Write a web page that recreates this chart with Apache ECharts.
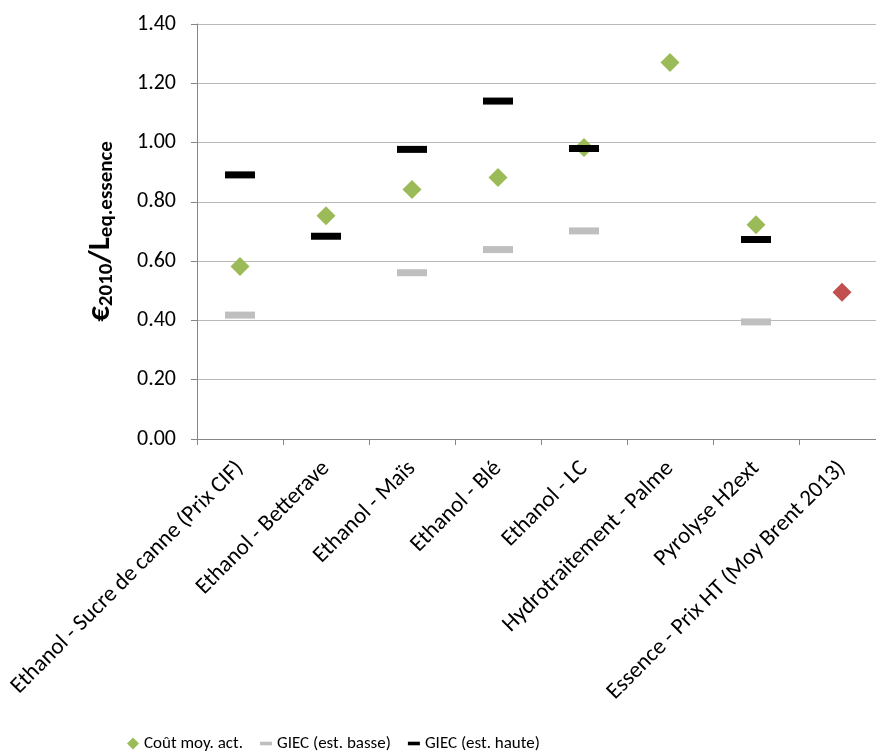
<!DOCTYPE html>
<html><head><meta charset="utf-8">
<script src="https://cdn.jsdelivr.net/npm/echarts@6/dist/echarts.min.js"></script>
<style>html,body{margin:0;padding:0;background:#fff}#c{width:876px;height:753px}</style>
</head><body><div id="c"></div>
<script>
var categories = ["Ethanol - Sucre de canne (Prix CIF)", "Ethanol - Betterave", "Ethanol - Maïs", "Ethanol - Blé", "Ethanol - LC", "Hydrotraitement - Palme", "Pyrolyse H2ext", "Essence - Prix HT (Moy Brent 2013)"];
var coutMoy = [0.582, 0.753, 0.842, 0.882, 0.983, 1.270, 0.723, 0.495];
var giecBasse = [0.418, null, 0.561, 0.639, 0.702, null, 0.395, null];
var giecHaute = [0.891, 0.684, 0.977, 1.140, 0.980, null, 0.673, null];
var yTicks = [0, 0.2, 0.4, 0.6, 0.8, 1.0, 1.2, 1.4];

var FONT = "Carlito, 'Liberation Sans Narrow', 'Open Sans', sans-serif";
var chart = echarts.init(document.getElementById('c'));
chart.setOption({
  animation: false,
  textStyle: {fontFamily: FONT},
  grid: {left: 197, top: 24, width: 688, height: 415, containLabel: false, outerBoundsMode: 'none'},
  legend: {
    top: 730, left: 122, itemWidth: 12, itemHeight: 12, itemGap: 17,
    textStyle: {fontSize: 17, color: '#000', fontFamily: FONT},
    data: [
      {name: 'Coût moy. act.', icon: 'diamond'},
      {name: 'GIEC (est. basse)', icon: 'path://M0,0 L10,0 L10,3 L0,3 Z'},
      {name: 'GIEC (est. haute)', icon: 'path://M0,0 L10,0 L10,3 L0,3 Z'}
    ]
  },
  xAxis: {
    type: 'category', data: categories, boundaryGap: true,
    axisLine: {lineStyle: {color: '#868686'}},
    axisTick: {show: true, length: 6, alignWithLabel: false, lineStyle: {color: '#868686'}},
    axisLabel: {rotate: 45, fontSize: 23, color: '#000', interval: 0, margin: 26, fontFamily: FONT},
    splitLine: {show: false}
  },
  yAxis: {
    type: 'value', min: yTicks[0], max: yTicks[yTicks.length - 1], interval: 0.2,
    axisLine: {show: true, lineStyle: {color: '#868686'}},
    axisTick: {show: true, length: 6, lineStyle: {color: '#868686'}},
    axisLabel: {fontSize: 22, color: '#000', margin: 21, formatter: function (v) { return v.toFixed(2); }, fontFamily: FONT},
    splitLine: {lineStyle: {color: '#b8b8b8', width: 1}},
    name: '{a|€}{s|2010}{a|/L}{s|eq.essence}',
    nameLocation: 'middle', nameRotate: 90, nameGap: 80,
    nameTextStyle: {
      rich: {
        a: {fontSize: 31, fontWeight: 'bold', color: '#000', fontFamily: FONT, lineHeight: 40, verticalAlign: 'bottom'},
        s: {fontSize: 21, fontWeight: 'bold', color: '#000', fontFamily: FONT, lineHeight: 32, verticalAlign: 'bottom'}
      }
    }
  },
  series: [
    {
      name: 'GIEC (est. basse)', type: 'scatter', symbol: 'rect', symbolSize: [30, 7],
      itemStyle: {color: '#BFBFBF', opacity: 1}, data: giecBasse, z: 2
    },
    {
      name: 'GIEC (est. haute)', type: 'scatter', symbol: 'rect', symbolSize: [30, 7],
      itemStyle: {color: '#000000', opacity: 1}, data: giecHaute, z: 3
    },
    {
      name: 'Coût moy. act.', type: 'scatter', symbol: 'diamond', symbolSize: [19, 19],
      itemStyle: {color: '#9BBB59', opacity: 1}, z: 2,
      data: coutMoy.map(function (v, i) {
        return i === coutMoy.length - 1 ? {value: v, itemStyle: {color: '#C0504D', opacity: 1}} : v;
      })
    }
  ]
});
</script></body></html>
